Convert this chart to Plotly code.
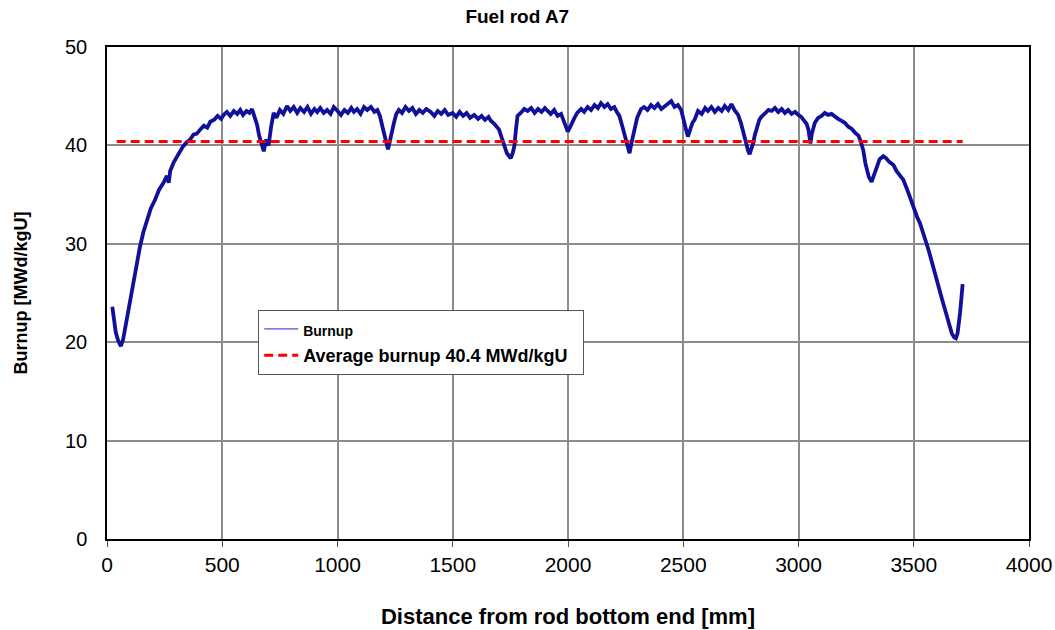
import plotly.graph_objects as go

# ---- data (distance mm, burnup MWd/kgU) ----
dist_a = [23, 30, 38, 48, 60, 70, 80, 90, 100, 114, 128, 143, 158, 172, 190, 209, 226, 245, 260, 268,
          274, 290, 305, 317, 330, 345, 361, 375, 390, 404, 420, 435, 448, 465, 480, 495, 506]
burn_a = [23.6, 22.4, 21.0, 20.2, 19.6, 20.3, 21.6, 23.2, 24.6, 26.3, 28.0, 29.7, 31.2, 32.4, 33.6, 34.5, 35.5, 36.2, 36.9, 36.2,
          37.4, 38.3, 38.9, 39.2, 39.9, 40.3, 40.6, 41.1, 41.2, 41.6, 42.0, 41.8, 42.4, 42.6, 43.0, 42.7, 43.1]

dist_b = [520, 535, 550, 565, 578, 590, 605, 618, 629, 640, 651, 660, 670, 680, 690, 701, 712, 723, 735, 750,
          765, 781, 795, 810, 825, 839, 855, 870, 885, 900, 912, 925, 940, 955, 970, 984, 1000, 1015, 1030, 1045,
          1060, 1071, 1085, 1100, 1115, 1129, 1145, 1160, 1173]
burn_b = [43.4, 43.0, 43.5, 43.2, 43.6, 43.1, 43.5, 43.3, 43.7, 43.0, 42.1, 41.0, 40.0, 39.4, 40.6, 40.0, 41.9, 43.3, 42.8, 43.6,
          43.2, 44.0, 43.5, 43.9, 43.3, 43.8, 43.4, 43.9, 43.2, 43.7, 43.4, 43.8, 43.3, 43.6, 43.2, 43.9, 43.5, 43.1, 43.6, 43.3,
          43.8, 43.4, 43.7, 43.2, 43.9, 43.6, 43.9, 43.4, 43.6]

dist_c = [1184, 1194, 1205, 1212, 1219, 1225, 1235, 1245, 1255, 1266, 1280, 1295, 1310, 1325, 1340, 1355, 1370, 1385, 1404, 1420,
          1435, 1450, 1465, 1480, 1499, 1515, 1530, 1545, 1560, 1575, 1593, 1610, 1625, 1640, 1655, 1665, 1680, 1692]
burn_c = [43.0, 42.0, 40.8, 40.1, 39.6, 40.2, 41.5, 42.3, 43.2, 43.6, 43.3, 43.9, 43.5, 43.8, 43.2, 43.6, 43.3, 43.7, 43.4, 43.0,
          43.5, 43.2, 43.6, 43.1, 43.3, 42.9, 43.4, 43.0, 43.3, 42.8, 43.1, 42.7, 43.0, 42.6, 42.9, 42.5, 42.2, 41.9]

dist_d = [1701, 1712, 1723, 1735, 1745, 1752, 1760, 1767, 1775, 1781, 1795, 1810, 1825, 1840, 1855, 1870, 1885, 1900, 1912, 1925,
          1940, 1955, 1970, 1980, 1990]
burn_d = [41.6, 40.8, 39.9, 39.2, 38.9, 38.7, 39.2, 39.9, 41.8, 43.0, 43.3, 43.7, 43.5, 43.8, 43.3, 43.7, 43.4, 43.8, 43.5, 43.2,
          43.6, 43.0, 43.2, 42.6, 42.0]

dist_e = [1999, 2010, 2020, 2028, 2040, 2057, 2070, 2085, 2100, 2115, 2130, 2143, 2158, 2172, 2186, 2201, 2212, 2223, 2235, 2245,
          2252, 2260, 2267, 2275, 2288, 2300, 2317]
burn_e = [41.4, 41.9, 42.3, 42.8, 43.3, 43.7, 43.4, 43.9, 43.6, 44.1, 43.8, 44.3, 43.9, 44.2, 43.7, 43.9, 43.4, 43.0, 42.0, 41.0,
          40.6, 39.8, 39.2, 40.2, 41.5, 42.8, 43.7]

dist_f = [2330, 2345, 2360, 2375, 2390, 2405, 2420, 2435, 2448, 2462, 2477, 2491, 2500, 2510, 2520, 2530, 2540, 2549, 2564, 2580,
          2595, 2607, 2622, 2637, 2652, 2667, 2680, 2695, 2709, 2722, 2738, 2750, 2760, 2767, 2775, 2782, 2788, 2795, 2803, 2810,
          2820, 2830, 2839]
burn_f = [43.9, 43.6, 44.1, 43.8, 44.2, 43.7, 44.0, 44.3, 44.5, 43.9, 44.1, 43.6, 42.9, 41.8, 40.9, 41.6, 42.3, 42.6, 43.5, 43.2,
          43.8, 43.5, 43.9, 43.4, 43.8, 43.5, 44.0, 43.6, 44.2, 43.6, 43.1, 42.3, 41.3, 40.9, 40.0, 39.4, 39.1, 39.6, 40.2, 41.0,
          42.0, 42.6, 42.9]

dist_g = [2855, 2870, 2883, 2898, 2912, 2927, 2941, 2955, 2970, 2985, 2999, 3012, 3025, 3035, 3043, 3048, 3052, 3058, 3065, 3071,
          3085, 3100, 3114, 3128, 3143, 3158, 3172, 3187, 3201, 3216, 3230, 3245, 3260, 3270]
burn_g = [43.3, 43.6, 43.5, 43.8, 43.4, 43.7, 43.3, 43.6, 43.2, 43.4, 43.1, 42.9, 42.5, 42.2, 41.6, 40.7, 40.2, 41.2, 41.9, 42.3,
          42.8, 43.0, 43.3, 43.1, 43.2, 42.9, 42.7, 42.5, 42.3, 41.9, 41.7, 41.3, 41.0, 40.4]

dist_h = [3281, 3290, 3296, 3305, 3317, 3327, 3339, 3352, 3368, 3380, 3395, 3412, 3425, 3440, 3455, 3470, 3482, 3491, 3505, 3515,
          3527, 3540, 3552, 3564, 3578, 3592, 3607, 3620, 3632, 3643, 3655, 3665, 3675, 3683, 3690, 3696, 3701, 3706, 3710, 3712]
burn_h = [39.5, 38.2, 37.5, 36.8, 36.3, 36.9, 37.8, 38.6, 38.9, 38.7, 38.3, 38.0, 37.4, 37.0, 36.5, 35.6, 34.8, 34.1, 33.3, 32.7,
          32.1, 31.2, 30.3, 29.4, 28.2, 26.9, 25.7, 24.6, 23.6, 22.6, 21.7, 20.9, 20.5, 20.4, 20.9, 21.9, 23.0, 24.3, 25.3, 25.9]

avg_x = [42, 3712]
avg_burnup = 40.4

x_ticks = [0, 500, 1000, 1500, 2000, 2500, 3000, 3500, 4000]
y_ticks = [0, 10, 20, 30, 40, 50]

distance = dist_a + dist_b + dist_c + dist_d + dist_e + dist_f + dist_g + dist_h
burnup = burn_a + burn_b + burn_c + burn_d + burn_e + burn_f + burn_g + burn_h
assert len(distance) == len(burnup)

FONT = "Liberation Sans, Arial, sans-serif"
BLUE = "#10109A"

fig = go.Figure()
fig.add_trace(go.Scatter(x=distance, y=burnup, mode="lines", showlegend=False,
                         line=dict(color=BLUE, width=3.8), hoverinfo="x+y"))
# legend entry with thin line, as in the reference
fig.add_trace(go.Scatter(x=[None], y=[None], mode="lines",
                         name="<b><span style='font-size:14px'>Burnup</span></b>",
                         line=dict(color="#2020D0", width=1)))
fig.add_trace(go.Scatter(x=avg_x, y=[avg_burnup] * len(avg_x), mode="lines",
                         name="<b>Average burnup 40.4 MWd/kgU</b>\u00a0\u00a0",
                         line=dict(color="#FF0000", width=3, dash="9px,5px")))

fig.update_layout(
    width=1055, height=630,
    margin=dict(l=107, r=26, t=47, b=91, autoexpand=False),
    paper_bgcolor="white", plot_bgcolor="white",
    font=dict(family=FONT, color="black"),
    title=dict(text="<b>Fuel rod A7</b>", x=0.445, xref="paper", xanchor="center",
               y=1 - 16 / 630, yref="container", yanchor="middle",
               font=dict(size=19, family=FONT, color="black")),
    legend=dict(x=0.164, y=0.466, xanchor="left", yanchor="top",
                bgcolor="white", bordercolor="#555555", borderwidth=1,
                font=dict(size=18, family=FONT, color="black"),
                tracegroupgap=0, itemwidth=34),
    showlegend=True,
)
fig.update_xaxes(range=[0, 4000], tickvals=x_ticks, ticktext=[str(v) for v in x_ticks],
                 showgrid=True, gridcolor="#8C8C8C", gridwidth=1.5,
                 showline=True, linecolor="black", linewidth=1.5, mirror=True,
                 ticks="outside", ticklen=6, tickcolor="#555555", tickwidth=1,
                 tickfont=dict(size=21, family=FONT, color="black"),
                 title=dict(text="<b>Distance from rod bottom end [mm]</b>", standoff=34,
                            font=dict(size=22, family=FONT, color="black")),
                 zeroline=False, automargin=False)
fig.update_yaxes(range=[0, 50], tickvals=y_ticks, ticktext=[str(v) for v in y_ticks],
                 showgrid=True, gridcolor="#8C8C8C", gridwidth=1.5,
                 showline=True, linecolor="black", linewidth=1.5, mirror=True,
                 ticks="", ticklabelstandoff=14,
                 tickfont=dict(size=20, family=FONT, color="black"),
                 title=dict(text="<b>Burnup [MWd/kgU]</b>", standoff=33,
                            font=dict(size=18, family=FONT, color="black")),
                 zeroline=False, automargin=False)

fig.write_html("out.html")
